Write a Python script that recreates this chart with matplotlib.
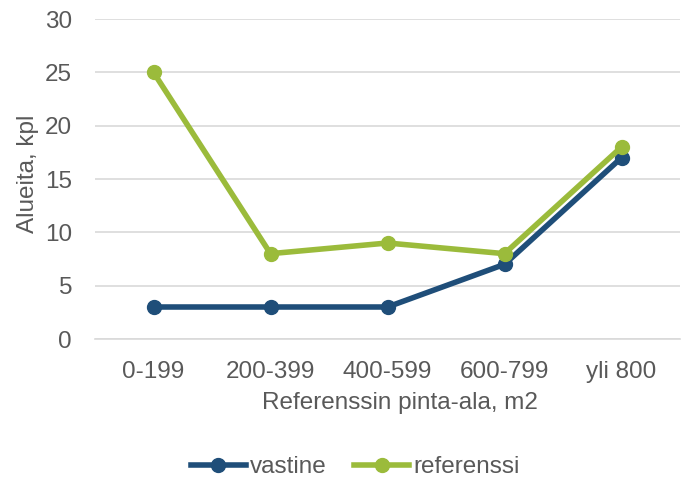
import matplotlib
matplotlib.use("Agg")
import matplotlib.pyplot as plt
from matplotlib.lines import Line2D

categories = ["0-199", "200-399", "400-599", "600-799", "yli 800"]
vastine = [3, 3, 3, 7, 17]
referenssi = [25, 8, 9, 8, 18]
yticks = [0, 5, 10, 15, 20, 25, 30]

plt.rcParams['font.family'] = ['Liberation Sans', 'DejaVu Sans']
blue = "#1F4E79"
green = "#9BBB3B"
gray = "#595959"
fs = 17.5

fig = plt.figure(figsize=(6.89, 4.80), dpi=100)
ax = fig.add_axes([95/689, 1-339/480, (680-95)/689, (339-19)/480])
x = list(range(len(categories)))
ax.plot(x, vastine, color=blue, lw=4, marker='o', ms=10, label='vastine', solid_capstyle='round', zorder=3)
ax.plot(x, referenssi, color=green, lw=4, marker='o', ms=10, label='referenssi', solid_capstyle='round', zorder=3)
ax.set_xlim(-0.5, len(categories)-0.5)
ax.set_ylim(0, 30)
ax.set_yticks(yticks)
ax.set_xticks(x)
ax.set_xticklabels(categories)
ax.grid(axis='y', color='#D9D9D9', lw=1.2)
ax.set_axisbelow(True)
for s in ['top', 'right', 'left']:
    ax.spines[s].set_visible(False)
ax.spines['bottom'].set_color('#D9D9D9')
ax.spines['bottom'].set_linewidth(1.2)
ax.tick_params(axis='both', length=0, labelsize=fs, colors=gray)
ax.tick_params(axis='x', pad=15.5)
ax.tick_params(axis='y', pad=16.5)
ax.set_xlabel("Referenssin pinta-ala, m2", fontsize=fs, color=gray, labelpad=7)
ax.set_ylabel("Alueita, kpl", fontsize=fs, color=gray, labelpad=4)
ax.xaxis.label.set_x(0.521)
ax.yaxis.label.set_y(0.516)
handles = [Line2D([0], [0], color=blue, lw=4, marker='o', ms=10),
           Line2D([0], [0], color=green, lw=4, marker='o', ms=10)]
fig.legend(handles, ['vastine', 'referenssi'], loc='center', bbox_to_anchor=(355/689, 1-467/480),
           ncol=2, frameon=False, fontsize=fs, labelcolor=gray, handlelength=2.3,
           handletextpad=0.15, columnspacing=1.1)
fig.savefig("out.png", dpi=100)
